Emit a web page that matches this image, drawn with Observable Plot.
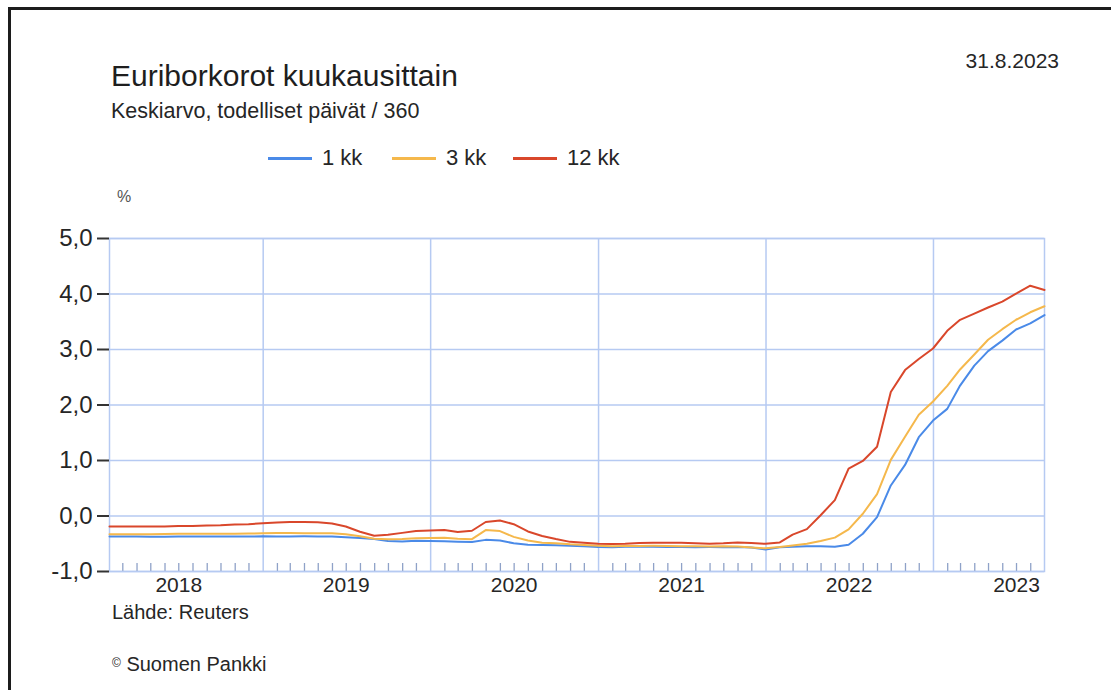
<!DOCTYPE html>
<html>
<head>
<meta charset="utf-8">
<script src="https://cdn.jsdelivr.net/npm/d3@7"></script>
<script src="https://cdn.jsdelivr.net/npm/@observablehq/plot@0.6"></script>
<style>
  html, body { margin: 0; padding: 0; background: #fff; }
  #wrap { position: relative; width: 1111px; height: 690px; overflow: hidden; background: #fff;
          font-family: "Liberation Sans", Arial, sans-serif; color: #262626; }
  #wrap svg { position: absolute; left: 0; top: 0; background: transparent; }
  .t { position: absolute; white-space: nowrap; line-height: 1; }
  #border { position: absolute; left: 8px; top: 7px; width: 1200px; height: 800px;
            border-top: 3px solid #1c1c1c; border-left: 3px solid #1c1c1c; }
  .lg { position: absolute; display: flex; align-items: center; font-size: 22px; color: #262626; }
  .lg span.sw { display: inline-block; width: 44px; height: 3px; margin-right: 10px; }
</style>
</head>
<body>
<div id="wrap">
  <div id="chart"></div>
  <div id="border"></div>
  <div class="t" id="title" style="left:111px; top:61px; font-size:30px; color:#1e1e1e;">Euriborkorot kuukausittain</div>
  <div class="t" id="subtitle" style="left:111px; top:101px; font-size:21.5px;">Keskiarvo, todelliset päivät / 360</div>
  <div class="t" id="date" style="right:52px; top:50px; font-size:21px;">31.8.2023</div>
  <div id="legend"></div>
  <div class="t" style="left:117px; top:189px; font-size:16px; color:#555;">%</div>
  <div class="t" style="left:112px; top:602px; font-size:20px;">Lähde: Reuters</div>
  <div class="t" style="left:112px; top:654px; font-size:20px;"><span style="font-size:12px; vertical-align:4px;">©</span> Suomen Pankki</div>
</div>
<script>
// ---- Data (monthly averages, Jan 2018 – Aug 2023) ----
const startYear = 2018;
const seriesNames = ["1 kk", "3 kk", "12 kk"];
const seriesColors = ["#4a8ae8", "#f5b84c", "#d9472b"];

const euribor1m = [
  -0.369,-0.370,-0.370,-0.372,-0.372,-0.371,-0.370,-0.370,-0.371,-0.371,-0.370,-0.366,
  -0.368,-0.368,-0.367,-0.369,-0.371,-0.384,-0.397,-0.416,-0.451,-0.458,-0.448,-0.451,
  -0.457,-0.466,-0.470,-0.430,-0.440,-0.492,-0.516,-0.521,-0.526,-0.537,-0.547,-0.558,
  -0.561,-0.552,-0.553,-0.555,-0.559,-0.557,-0.561,-0.560,-0.561,-0.557,-0.567,-0.602,
  -0.563,-0.554,-0.545,-0.543,-0.552,-0.518,-0.320,-0.020,0.550,0.920,1.420,1.720,
  1.930,2.350,2.710,2.970,3.160,3.360,3.470,3.620
];
const euribor3m = [
  -0.328,-0.328,-0.328,-0.328,-0.325,-0.322,-0.321,-0.319,-0.319,-0.318,-0.316,-0.312,
  -0.308,-0.308,-0.309,-0.310,-0.312,-0.330,-0.365,-0.408,-0.418,-0.413,-0.401,-0.395,
  -0.391,-0.409,-0.417,-0.253,-0.272,-0.376,-0.443,-0.481,-0.490,-0.509,-0.521,-0.538,
  -0.547,-0.541,-0.539,-0.538,-0.540,-0.543,-0.545,-0.548,-0.545,-0.550,-0.567,-0.583,
  -0.560,-0.530,-0.500,-0.450,-0.390,-0.240,0.040,0.395,1.011,1.428,1.825,2.063,
  2.345,2.640,2.911,3.175,3.366,3.536,3.671,3.780
];
const euribor12m = [
  -0.189,-0.191,-0.191,-0.190,-0.188,-0.181,-0.180,-0.169,-0.166,-0.154,-0.147,-0.129,
  -0.116,-0.108,-0.109,-0.112,-0.134,-0.190,-0.283,-0.356,-0.339,-0.304,-0.272,-0.261,
  -0.253,-0.288,-0.266,-0.108,-0.081,-0.147,-0.279,-0.359,-0.415,-0.466,-0.481,-0.499,
  -0.505,-0.501,-0.487,-0.484,-0.481,-0.484,-0.491,-0.498,-0.492,-0.477,-0.487,-0.502,
  -0.477,-0.335,-0.237,0.013,0.287,0.853,0.992,1.249,2.233,2.629,2.828,3.018,
  3.337,3.534,3.647,3.757,3.862,4.007,4.149,4.073
];
const yTicks = [-1, 0, 1, 2, 3, 4, 5];
const yearLabels = [2018, 2019, 2020, 2021, 2022, 2023];

// ---- Build table ----
// each monthly average is plotted at the last day of its month
const monthEnds = euribor1m.map((_, i) =>
  d3.utcDay.offset(new Date(Date.UTC(startYear, i + 1, 1)), -1));
const allSeries = [euribor1m, euribor3m, euribor12m];
const rows = [];
allSeries.forEach((vals, s) => vals.forEach((v, i) =>
  rows.push({date: monthEnds[i], value: v, series: seriesNames[s]})));

const xDomain = [monthEnds[0], monthEnds[monthEnds.length - 1]];
const yearStarts = yearLabels.slice(1).map(y => new Date(Date.UTC(y, 0, 1)));
const yearMids = yearLabels.map(y => new Date(Date.UTC(y, 6, 1)));
const monthTicks = d3.utcMonth.range(xDomain[0], xDomain[1]).map(d => d3.utcMonth.offset(d, 1))
  .filter(d => d <= xDomain[1] && d.getUTCMonth() !== 0);

const gridColor = "#b6caf2";
const fmt = d => (d < 0 ? "-" : "") + Math.abs(d).toFixed(1).replace(".", ",");

const chart = Plot.plot({
  width: 1111,
  height: 690,
  marginLeft: 109,
  marginRight: 67,
  marginTop: 238,
  marginBottom: 119,
  style: {fontFamily: "'Liberation Sans', Arial, sans-serif", color: "#262626", background: "transparent"},
  x: {type: "utc", domain: xDomain},
  y: {domain: [-1, 5]},
  color: {domain: seriesNames, range: seriesColors},
  marks: [
    Plot.gridY(yTicks, {stroke: gridColor, strokeOpacity: 1, strokeWidth: 1.5}),
    Plot.gridX(yearStarts, {stroke: gridColor, strokeOpacity: 1, strokeWidth: 1.5}),
    Plot.ruleX(monthTicks, {x: d => d, y1: 5, y2: -1, insetTop: 325, stroke: "#8fa2c8", strokeWidth: 1.3}),
    Plot.frame({stroke: gridColor, strokeWidth: 1.5}),
    Plot.axisY(yTicks, {tickFormat: fmt, tickSize: 12, tickPadding: 5, fontSize: 24,
      stroke: "#333", strokeWidth: 2, fill: "#262626", label: null}),
    Plot.axisX(yearMids, {tickFormat: d => String(d.getUTCFullYear()), tickSize: 0, tickPadding: 6,
      fontSize: 21, fill: "#262626", label: null}),
    Plot.line(rows, {x: "date", y: "value", z: "series", stroke: "series", strokeWidth: 2,
      curve: "linear"})
  ]
});
document.getElementById("chart").appendChild(chart);

// ---- Legend ----
const legendLeft = [268, 392, 513];
const legend = document.getElementById("legend");
seriesNames.forEach((name, i) => {
  const item = document.createElement("div");
  item.className = "lg";
  item.style.left = legendLeft[i] + "px";
  item.style.top = "145px";
  item.innerHTML = `<span class="sw" style="background:${seriesColors[i]}"></span><span>${name}</span>`;
  legend.appendChild(item);
});
</script>
</body>
</html>
